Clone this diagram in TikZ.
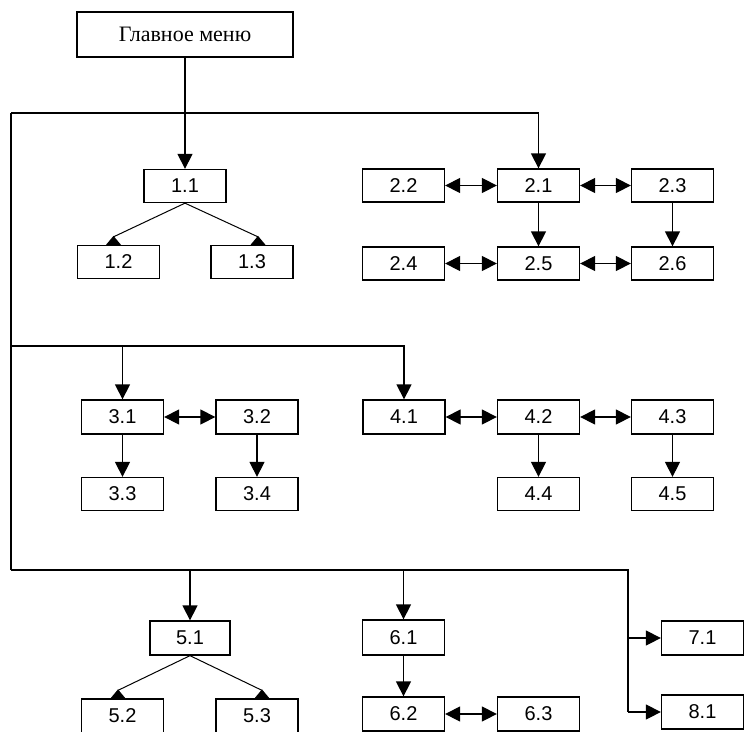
\documentclass[tikz,border=0pt]{standalone}
\usepackage{fontspec}
\setmainfont{Liberation Serif}
\newfontfamily\numfont{Liberation Sans}
\usetikzlibrary{arrows.meta}
\begin{document}
\begin{tikzpicture}[x=1pt,y=-1pt,line width=1.3pt,
  box/.style={draw,line width=1.3pt,minimum width=82pt,minimum height=33pt,inner sep=0pt,
    font=\numfont\fontsize{20}{20}\selectfont},
  titlebox/.style={draw,line width=1.3pt,minimum width=216pt,minimum height=45pt,inner sep=0pt,
    font=\fontsize{22}{22}\selectfont},
  arr/.style={-{Triangle[length=15pt,width=15pt]}},
  darr/.style={{Triangle[length=15pt,width=15pt]}-{Triangle[length=15pt,width=15pt]}},
  tri/.style={fill=black,draw=none}
]
\fill[white] (0,0) rectangle (744,731);
\useasboundingbox (0,0) rectangle (744,731);
\clip (0,0) rectangle (744,731);

% nodes
\node[titlebox] (menu) at (185,34.5) {Главное меню};

\node[box] (n11) at (185,186) {1.1};
\node[box] (n12) at (118.5,262) {1.2};
\node[box] (n13) at (252,262) {1.3};

\node[box] (n22) at (403.5,185.5) {2.2};
\node[box] (n21) at (538.5,185.5) {2.1};
\node[box] (n23) at (672.5,185.5) {2.3};
\node[box] (n24) at (403.5,263.5) {2.4};
\node[box] (n25) at (538.5,263.5) {2.5};
\node[box] (n26) at (672.5,263.5) {2.6};

\node[box,minimum height=34pt] (n31) at (122.5,417) {3.1};
\node[box,minimum height=34pt] (n32) at (257,417) {3.2};
\node[box] (n33) at (122.5,494) {3.3};
\node[box] (n34) at (257,494) {3.4};

\node[box,minimum height=34pt] (n41) at (404,417) {4.1};
\node[box,minimum height=34pt] (n42) at (538.5,417) {4.2};
\node[box,minimum height=34pt] (n43) at (672.5,417) {4.3};
\node[box] (n44) at (538.5,494) {4.4};
\node[box] (n45) at (672.5,494) {4.5};

\node[box,minimum width=80pt,minimum height=34pt] (n51) at (190,638) {5.1};
\node[box,minimum height=34pt] (n52) at (122.5,716) {5.2};
\node[box,minimum height=34pt] (n53) at (257,716) {5.3};

\node[box,minimum height=35pt] (n61) at (403.5,637.5) {6.1};
\node[box,minimum height=34pt] (n62) at (403.5,714) {6.2};
\node[box,minimum height=34pt] (n63) at (538.5,714) {6.3};

\node[box,minimum height=34pt] (n71) at (702.5,638) {7.1};
\node[box,minimum height=34pt] (n81) at (702.5,712) {8.1};

% bus lines
\coordinate (bTop) at (11,113);
\coordinate (bMid) at (11,346);
\coordinate (bBot) at (11,570);
\coordinate (bRight) at (628,570);
\coordinate (j71) at (628,638);
\coordinate (j81) at (628,712);

\draw (bBot) -- (bTop);
\draw[arr] (bTop) -| (n21.north);
\draw[arr] (menu.south) -- (n11.north);
\draw[arr] (bMid) -| (n41.north);
\draw[arr] (n31.north |- bMid) -- (n31.north);
\draw (bBot) -- (bRight) -- (j81);
\draw[arr] (n51.north |- bBot) -- (n51.north);
\draw[arr] (n61.north |- bBot) -- (n61.north);
\draw[arr] (j71) -- (n71.west);
\draw[arr] (j81) -- (n81.west);

% group 1 diagonals
\draw[line width=1pt] (n11.south) -- ([xshift=-5pt,yshift=8pt]n12.north);
\fill[tri] ([xshift=-5pt,yshift=9pt]n12.north) -- ([xshift=-12.5pt]n12.north) -- ([xshift=2.5pt]n12.north) -- cycle;
\draw[line width=1pt] (n11.south) -- ([xshift=6pt,yshift=8pt]n13.north);
\fill[tri] ([xshift=6pt,yshift=9pt]n13.north) -- ([xshift=-1.5pt]n13.north) -- ([xshift=13.5pt]n13.north) -- cycle;

% group 5 diagonals
\draw[line width=1pt] (n51.south) -- ([xshift=-4.5pt,yshift=8pt]n52.north);
\fill[tri] ([xshift=-4.5pt,yshift=9pt]n52.north) -- ([xshift=-12pt]n52.north) -- ([xshift=3pt]n52.north) -- cycle;
\draw[line width=1pt] (n51.south) -- ([xshift=5pt,yshift=8pt]n53.north);
\fill[tri] ([xshift=5pt,yshift=9pt]n53.north) -- ([xshift=-2.5pt]n53.north) -- ([xshift=12.5pt]n53.north) -- cycle;

% group 2
\draw[darr] (n22.east) -- (n21.west);
\draw[darr] (n21.east) -- (n23.west);
\draw[darr] (n24.east) -- (n25.west);
\draw[darr] (n25.east) -- (n26.west);
\draw[arr] (n21.south) -- (n25.north);
\draw[arr] (n23.south) -- (n26.north);

% group 3
\draw[darr] (n31.east) -- (n32.west);
\draw[arr] (n31.south) -- (n33.north);
\draw[arr] (n32.south) -- (n34.north);

% group 4
\draw[darr] (n41.east) -- (n42.west);
\draw[darr] (n42.east) -- (n43.west);
\draw[arr] (n42.south) -- (n44.north);
\draw[arr] (n43.south) -- (n45.north);

% group 6
\draw[arr] (n61.south) -- (n62.north);
\draw[darr] (n62.east) -- (n63.west);
\end{tikzpicture}
\end{document}
